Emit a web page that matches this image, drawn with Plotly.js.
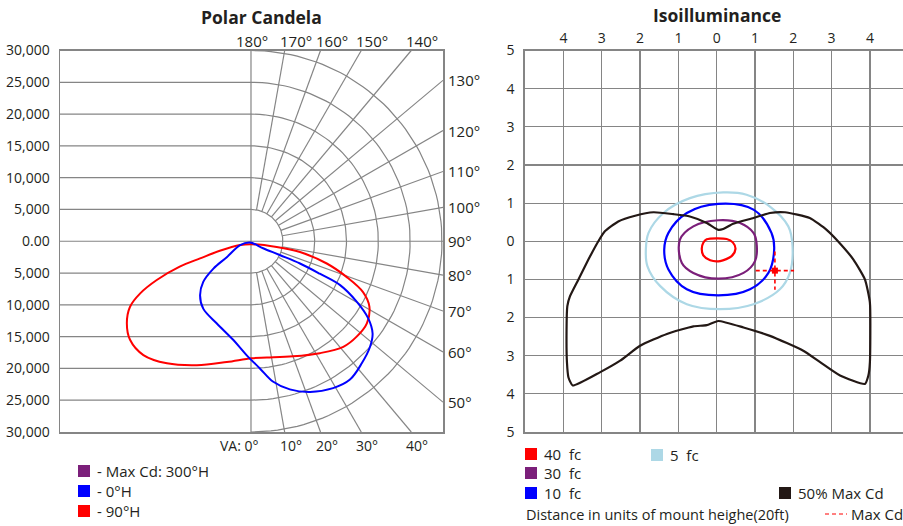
<!DOCTYPE html>
<html><head><meta charset="utf-8">
<script src="https://cdn.plot.ly/plotly-3.0.1.min.js"></script>
<style>html,body{margin:0;padding:0;background:#fff}</style>
</head><body><div id="chart" style="width:903px;height:526px"></div>
<script>
// ---------- Polar Candela data (candela, x = horizontal, y = vertical, down negative) ----------
const candelaTicks = [30000,25000,20000,15000,10000,5000,0,-5000,-10000,-15000,-20000,-25000,-30000];
const candelaTickText = ['30,000','25,000','20,000','15,000','10,000','5,000','0.00','5,000','10,000','15,000','20,000','25,000','30,000'];
const ringValues = [5000,10000,15000,20000,25000,30000];
const angleValues = [0,10,20,30,40,50,60,70,80,90,100,110,120,130,140,150,160,170,180];
const topAngleLabels = [180,170,160,150,140];
const sideAngleLabels = [130,120,110,100,90,80,70,60,50];
const bottomAngleLabels = [0,10,20,30,40];

const red90X = [100,4040,7700,11900,15000,17600,18600,18200,16600,14500,10800,6600,2500,100,-3800,-8500,-13200,-16900,-19000,-19500,-19000,-17400,-14800,-11200,-8000,-4900,-1700,100];
const red90Y = [-470,-900,-1700,-3500,-5600,-8000,-10300,-12900,-15000,-16600,-17600,-18100,-18300,-18400,-19000,-19500,-19200,-17900,-15500,-12900,-10300,-8200,-6100,-4000,-2700,-1500,-600,-470];
const blue0X = [-160,1900,4600,7700,10800,14000,16600,18400,19100,18700,17400,15500,12900,9300,6100,3500,1400,-700,-2800,-5400,-7500,-8000,-7500,-5900,-3800,-1700,-160];
const blue0Y = [-200,-1100,-2200,-3500,-5100,-6900,-9500,-12100,-14500,-16600,-19200,-21800,-23100,-23700,-23300,-22100,-20000,-17900,-15500,-12900,-10600,-8500,-6400,-4300,-2500,-600,-200];

// ---------- Isoilluminance data (units of mount height) ----------
const isoTickVals = [-4,-3,-2,-1,0,1,2,3,4];
const isoTickText = ['4','3','2','1','0','1','2','3','4'];
const isoYTickVals = [5,4,3,2,1,0,-1,-2,-3,-4,-5];
const isoYTickText = ['5','4','3','2','1','0','1','2','3','4','5'];

const fc40X = [-0.26,0.26,0.42,0.49,0.39,0.09,-0.17,-0.35,-0.39,-0.35,-0.26];
const fc40Y = [0.05,0.06,-0.03,-0.2,-0.39,-0.52,-0.5,-0.37,-0.2,-0.04,0.05];
const fc30X = [0.04,-0.61,-0.96,-0.91,-0.61,0.04,0.7,1.0,1.04,0.96,0.61,0.04];
const fc30Y = [0.55,0.39,0.04,-0.57,-0.83,-0.98,-0.83,-0.52,-0.04,0.22,0.48,0.55];
const fc10X = [0.04,-0.78,-1.26,-1.37,-1.26,-0.78,0.04,0.87,1.35,1.5,1.43,0.96,0.04];
const fc10Y = [0.98,0.74,0.22,-0.22,-0.74,-1.26,-1.42,-1.26,-0.83,-0.22,0.22,0.83,0.98];
const fc5X = [0.17,-0.7,-1.39,-1.78,-1.85,-1.81,-1.48,-0.78,0.09,0.96,1.65,1.91,1.98,1.87,1.39,0.78,0.17];
const fc5Y = [1.28,1.13,0.74,0.22,-0.22,-0.65,-1.17,-1.65,-1.78,-1.65,-1.26,-0.83,-0.13,0.39,0.91,1.22,1.28];
const halfMaxX = [0.04,-0.26,-0.7,-1.13,-1.65,-2.13,-2.57,-2.92,-3.09,-3.35,-3.61,-3.83,-3.9,-3.92,-3.91,-3.87,-3.76,-3.04,-2.52,-2.0,-1.3,-0.61,-0.26,0.04,0.7,1.39,2.26,2.7,3.22,3.87,3.96,4.0,4.0,3.87,3.57,3.13,2.87,2.43,1.78,1.39,0.96,0.43,0.17,0.04];
const halfMaxY = [0.30,0.48,0.65,0.71,0.76,0.67,0.52,0.26,0.0,-0.48,-1.0,-1.44,-1.7,-2.31,-3.17,-3.57,-3.78,-3.43,-3.13,-2.74,-2.43,-2.23,-2.2,-2.09,-2.26,-2.48,-2.87,-3.17,-3.52,-3.74,-3.52,-3.17,-1.61,-1.0,-0.48,0.04,0.30,0.61,0.76,0.74,0.61,0.46,0.32,0.30];
const maxCdX = [1.52];
const maxCdY = [-0.77];

// ---------- layout helpers ----------
const W = 903, H = 526;
const px = v => v / W;
const py = v => 1 - v / H;
const GRID = '#858585';
const TXT = '#231f20';
const FONT = 'Open Sans, Noto Sans, sans-serif';
const XMAX = 30160, YMAX = 30000, XMIN = -30000;

const traces = [];

// polar grid: horizontal lines (left side) and semicircle arcs
{
  const gx = [], gy = [];
  ringValues.forEach(r => {
    if (r < YMAX) {
      [r, -r].forEach(s => { gx.push(XMIN, 0, null); gy.push(s, s, null); });
    }
    for (let a = 0; a <= 180; a += 2) {
      const t = a * Math.PI / 180;
      gx.push(r * Math.sin(t)); gy.push(-r * Math.cos(t));
    }
    gx.push(null); gy.push(null);
  });
  gx.push(0, 0, null, XMIN, XMAX, null); gy.push(-YMAX, YMAX, null, 0, 0, null);
  angleValues.forEach(a => {
    if (a === 0 || a === 90 || a === 180) return;
    const t = a * Math.PI / 180;
    const dx = Math.sin(t), dy = -Math.cos(t);
    const k = Math.min(XMAX / dx, YMAX / Math.abs(dy));
    const r0 = ringValues[0];
    gx.push(r0 * dx, k * dx, null); gy.push(r0 * dy, k * dy, null);
  });
  traces.push({x: gx, y: gy, mode: 'lines', line: {color: GRID, width: 1.2}, hoverinfo: 'skip', showlegend: false, xaxis: 'x', yaxis: 'y'});
}
traces.push({x: red90X, y: red90Y, mode: 'lines', line: {color: '#ff0000', width: 2, shape: 'spline', smoothing: 1}, showlegend: false, xaxis: 'x', yaxis: 'y'});
traces.push({x: blue0X, y: blue0Y, mode: 'lines', line: {color: '#0000ff', width: 2, shape: 'spline', smoothing: 1}, showlegend: false, xaxis: 'x', yaxis: 'y'});

const iso = [
  [fc5X, fc5Y, '#add8e6', 1],
  [fc10X, fc10Y, '#0000ff', 1],
  [fc30X, fc30Y, '#7b1f7a', 1],
  [fc40X, fc40Y, '#ff0000', 0.8],
  [halfMaxX, halfMaxY, '#231815', 0.5]
];
iso.forEach(([x, y, c, sm]) => traces.push({x, y, mode: 'lines', line: {color: c, width: 2.2, shape: 'spline', smoothing: sm}, showlegend: false, xaxis: 'x2', yaxis: 'y2'}));
const arm = 0.5;
traces.push({x: [maxCdX[0] - arm, maxCdX[0] + arm, null, maxCdX[0], maxCdX[0]], y: [maxCdY[0], maxCdY[0], null, maxCdY[0] + arm, maxCdY[0] - arm], mode: 'lines', line: {color: '#ff0000', width: 1.6, dash: '4px,3px'}, showlegend: false, xaxis: 'x2', yaxis: 'y2'});
traces.push({x: maxCdX, y: maxCdY, mode: 'markers', marker: {color: '#ff0000', size: 6, symbol: 'square'}, showlegend: false, xaxis: 'x2', yaxis: 'y2'});

const ydom = [py(432), py(50.5)];
const layout = {
  width: W, height: H, margin: {l: 0, r: 0, t: 0, b: 0},
  paper_bgcolor: '#fff', plot_bgcolor: '#fff', showlegend: false,
  font: {family: FONT, color: TXT, size: 14},
  xaxis: {domain: [px(60), px(443)], range: [XMIN, XMAX], showgrid: false, zeroline: false, showticklabels: false, ticks: '',
          showline: true, mirror: true, linecolor: GRID, linewidth: 1.5, fixedrange: true},
  yaxis: {domain: ydom, range: [-YMAX, YMAX], showgrid: false, zeroline: false, tickmode: 'array', tickvals: candelaTicks, ticktext: candelaTickText,
          ticks: '', ticklabelstandoff: 6, showline: true, mirror: true, linecolor: GRID, linewidth: 1.5, fixedrange: true, tickfont: {size: 14}},
  xaxis2: {domain: [px(525.2), 1], range: [-5, (903 - 716.7) / 38.3], side: 'top', tickmode: 'array', tickvals: isoTickVals, ticktext: isoTickText,
           showgrid: true, gridcolor: GRID, gridwidth: 1.2, zeroline: false, ticks: '', showline: true, mirror: true, linecolor: GRID, linewidth: 2, fixedrange: true, anchor: 'y2', tickfont: {size: 14}},
  yaxis2: {domain: ydom, range: [-5, 5], anchor: 'x2', tickmode: 'array', tickvals: isoYTickVals, ticktext: isoYTickText, showgrid: true, gridcolor: GRID, gridwidth: 1.2,
           zeroline: false, ticks: '', ticklabelstandoff: 6, showline: true, linecolor: GRID, linewidth: 2, fixedrange: true, tickfont: {size: 14}},
  annotations: [], shapes: []
};
const ann = layout.annotations, shp = layout.shapes;
ann.push({text: '<b>Polar Candela</b>', xref: 'paper', yref: 'paper', x: px(261), y: py(17), showarrow: false, font: {size: 17.5}, xanchor: 'center', yanchor: 'middle'});
ann.push({text: '<b>Isoilluminance</b>', xref: 'paper', yref: 'paper', x: px(717), y: py(15), showarrow: false, font: {size: 17.5}, xanchor: 'center', yanchor: 'middle'});

topAngleLabels.forEach(a => {
  const t = (180 - a) * Math.PI / 180;
  const xh = YMAX * Math.tan(t);
  ann.push({text: a + '°', xref: 'x', yref: 'y', x: xh, y: YMAX, yshift: 9, xshift: a === 180 ? 1 : 11, showarrow: false, xanchor: 'center', yanchor: 'middle', font: {size: 15}});
});
sideAngleLabels.forEach(a => {
  const t = (a - 90) * Math.PI / 180;
  const yh = XMAX * Math.tan(t);
  ann.push({text: a + '°', xref: 'x', yref: 'y', x: XMAX, y: yh, xshift: 3, showarrow: false, xanchor: 'left', yanchor: 'middle', font: {size: 15}});
});
bottomAngleLabels.forEach(a => {
  const t = a * Math.PI / 180;
  const xh = YMAX * Math.tan(t);
  ann.push({text: (a === 0 ? 'VA: ' : '') + a + '°', xref: 'x', yref: 'y', x: xh, y: -YMAX, yshift: -13, xshift: a === 0 ? -11 : 6, showarrow: false, xanchor: 'center', yanchor: 'middle', font: {size: 14}});
});

function legendItem(x0, ycenter, color, text, size) {
  shp.push({type: 'rect', xref: 'paper', yref: 'paper', x0: px(x0), x1: px(x0 + 12), y0: py(ycenter + 6), y1: py(ycenter - 6), fillcolor: color, line: {width: 0}});
  ann.push({text, xref: 'paper', yref: 'paper', x: px(x0 + 17), y: py(ycenter), xanchor: 'left', yanchor: 'middle', showarrow: false, font: {size: size || 14}});
}
legendItem(78, 471, '#7b1f7a', '- Max Cd: 300°H', 15);
legendItem(78, 491, '#0000ff', '- 0°H', 15);
legendItem(78, 511, '#ff0000', '- 90°H', 15);
legendItem(525, 454, '#ff0000', '40  fc', 15);
legendItem(525, 473, '#7b1f7a', '30  fc', 15);
legendItem(525, 493, '#0000ff', '10  fc', 15);
legendItem(651, 455, '#add8e6', '5  fc', 15);
legendItem(779, 493, '#231815', '50% Max Cd', 15);
ann.push({text: 'Distance in units of mount heighe(20ft)', xref: 'paper', yref: 'paper', x: px(524), y: py(514), xanchor: 'left', yanchor: 'middle', showarrow: false, font: {size: 14.5}});
shp.push({type: 'line', xref: 'paper', yref: 'paper', x0: px(825), x1: px(847), y0: py(514), y1: py(514), line: {color: '#ff0000', width: 1, dash: '4px,3px'}});
ann.push({text: 'Max Cd', xref: 'paper', yref: 'paper', x: px(849), y: py(514), xanchor: 'left', yanchor: 'middle', showarrow: false, font: {size: 15}});

Plotly.newPlot('chart', traces, layout, {displayModeBar: false, staticPlot: true});
</script></body></html>
